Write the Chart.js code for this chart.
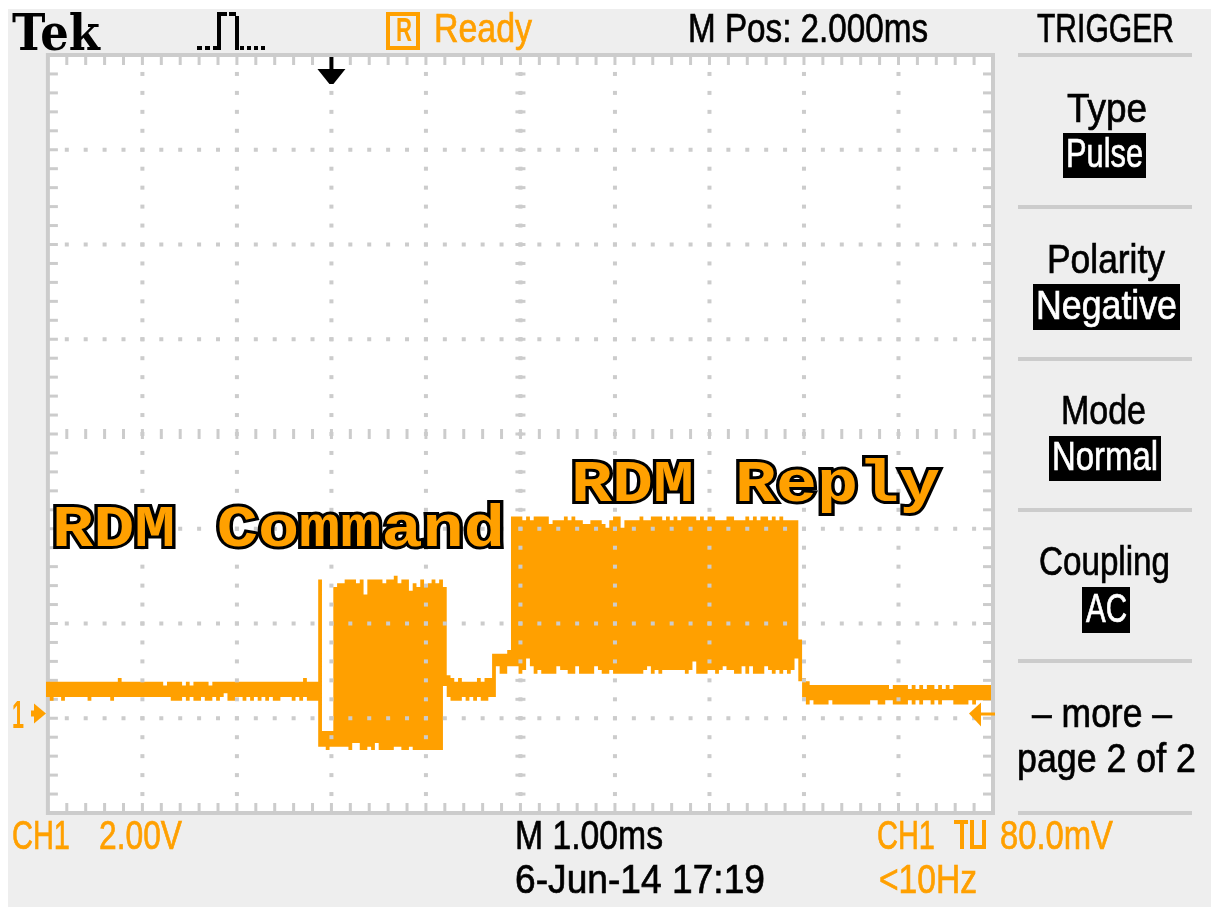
<!DOCTYPE html>
<html>
<head>
<meta charset="utf-8">
<title>RDM Command / Reply</title>
<script src="https://cdn.jsdelivr.net/npm/chart.js@4/dist/chart.umd.min.js"></script>
<style>
  html, body { margin: 0; background: #fff; overflow: hidden; }
  #wrap { position: relative; width: 1211px; height: 908px; overflow: hidden; }
  #panel { position: absolute; left: 8px; top: 9px; width: 1203px; height: 898px; background: #eee; }
  #scope { position: absolute; left: 0; top: 0; }
  .txt { position: absolute; line-height: 0; white-space: pre; transform-origin: 0 0; font-family: "Liberation Sans", sans-serif; }
  .box { position: absolute; background: #000; }
  .sep { position: absolute; background: #ccc; left: 1018px; width: 174px; height: 4px; }
</style>
</head>
<body>
<div id="wrap">
  <div id="panel"></div>
  <canvas id="scope" width="1211" height="908"></canvas>
</div>
<script>
const ORANGE = '#ffa000';
const GRID = '#cccccc';

// one column of the display = 0.04 ms, trace values in volts (2 V/div, 1 ms/div)
const firstSample = -3.02;
const sampleStep = 0.04;

const traceHigh = [
  .67,.67,.67,.67,.67,.67,.67,.67,.67,.67,
  .67,.67,.67,.67,.67,.67,.67,.67,.67,.75,
  .67,.67,.67,.67,.67,.67,.67,.67,.67,.67,
  .67,.59,.67,.67,.67,.67,.59,.67,.59,.67,
  .67,.67,.67,.59,.67,.67,.67,.67,.67,.67,
  .67,.67,.67,.67,.67,.67,.67,.67,.67,.67,
  .67,.67,.67,.67,.67,.67,.67,.67,.75,.67,
  .67,.67,2.83,-.37,-.37,-.37,2.67,2.75,2.75,2.83,
  2.83,2.83,2.75,2.83,2.51,2.83,2.83,2.83,2.83,2.75,
  2.83,2.83,2.91,2.75,2.83,2.83,2.59,2.75,2.67,2.83,
  2.67,2.75,2.83,2.75,2.83,2.67,.81,.75,.67,.75,
  .67,.67,.67,.67,.75,.67,.75,.75,1.26,1.26,
  1.26,1.26,1.34,4.16,4.16,4.16,4.08,4.16,4.08,4.16,
  4.16,4.16,4.16,4.00,4.08,4.08,4.08,4.16,4.08,4.16,
  4.08,4.08,4.00,4.00,4.08,4.08,4.08,4.00,3.92,4.08,
  4.16,4.16,3.92,4.08,4.08,4.08,4.08,4.16,4.08,4.08,
  4.16,4.16,4.16,4.08,4.16,4.08,4.16,4.08,4.16,4.16,
  4.16,4.16,4.08,4.16,4.08,4.16,4.16,4.08,4.08,4.08,
  4.16,4.16,4.08,4.08,4.08,4.16,4.08,4.16,4.08,4.16,
  4.16,4.08,4.16,4.08,4.16,4.08,4.08,4.08,4.08,1.56,
  .75,.68,.60,.60,.60,.60,.60,.60,.60,.60,
  .60,.60,.60,.60,.60,.60,.60,.60,.60,.60,
  .60,.60,.60,.52,.60,.60,.60,.60,.52,.60,
  .52,.60,.52,.60,.60,.52,.60,.52,.60,.52,
  .60,.60,.60,.60,.60,.60,.60,.60,.60,.60
];

const traceLow = [
  .35,.27,.35,.35,.27,.35,.35,.35,.35,.35,
  .35,.27,.35,.35,.35,.35,.35,.27,.35,.35,
  .35,.35,.35,.35,.35,.35,.35,.35,.35,.35,
  .35,.35,.35,.27,.27,.27,.35,.27,.35,.27,
  .27,.35,.27,.27,.35,.27,.35,.43,.27,.27,
  .35,.35,.27,.35,.27,.35,.27,.35,.27,.35,
  .27,.27,.35,.35,.35,.27,.35,.27,.35,.27,
  .27,.27,-.70,-.70,-.77,-.70,-.70,-.70,-.70,-.70,
  -.77,-.62,-.62,-.77,-.77,-.70,-.77,-.62,-.77,-.77,
  -.77,-.77,-.70,-.70,-.77,-.77,-.70,-.77,-.77,-.77,
  -.77,-.77,-.77,-.77,-.77,.58,.35,.27,.27,.27,
  .35,.27,.35,.27,.35,.27,.27,.35,.35,1.00,
  .84,.84,1.00,1.00,1.00,.84,.92,1.16,1.00,.84,
  .92,.84,.84,.84,.84,1.00,.92,.92,.84,.84,
  1.00,.84,.84,.84,.84,1.00,.92,.84,.84,.92,
  .84,.84,.84,.84,.84,.84,.84,.84,.92,1.00,
  .84,.92,.84,.92,.92,.92,.92,.92,.92,.84,
  .92,1.10,.84,.84,.84,.92,.92,.84,.92,1.00,
  .92,.92,.84,.84,1.00,.84,1.00,.84,.84,.84,
  1.00,.92,.84,.92,.84,.92,.84,.92,1.16,.68,
  .34,.19,.28,.19,.19,.19,.19,.28,.19,.19,
  .19,.19,.19,.19,.19,.19,.19,.19,.28,.28,
  .19,.19,.28,.28,.19,.19,.19,.19,.28,.19,
  .28,.19,.28,.28,.19,.28,.19,.28,.28,.28,
  .19,.19,.19,.19,.28,.19,.28,.28,.28,.28
];

const timeMin = -3;
const timeMax = 7;
const voltMin = -2.1;
const voltMax = 13.9;
const triggerTime = 0;
const groundVolts = 0;

const sampleTimes = traceHigh.map((_, i) => firstSample + i * sampleStep);
sampleTimes.push(firstSample + traceHigh.length * sampleStep);
const highPoints = sampleTimes.map((t, i) => ({ x: t, y: traceHigh[Math.min(i, traceHigh.length - 1)] }));
const lowPoints = sampleTimes.map((t, i) => ({ x: t, y: traceLow[Math.min(i, traceLow.length - 1)] }));

const scopePlugin = {
  id: 'scopeGraticule',
  beforeDraw(chart) {
    const { ctx, chartArea: a } = chart;
    ctx.fillStyle = '#fff';
    ctx.fillRect(a.left, a.top, a.width, a.height);
  },
  beforeDatasetsDraw(chart) {
    const { ctx, chartArea: a, scales: { x, y } } = chart;
    const left = x.getPixelForValue(timeMin);
    const right = x.getPixelForValue(timeMax);
    ctx.save();
    ctx.fillStyle = GRID;
    // frame
    ctx.strokeStyle = GRID;
    ctx.lineWidth = 4;
    ctx.strokeRect(left, a.top, right - left, a.height);
    // ticks on the frame and on the centre cross
    const cy = y.getPixelForValue((voltMin + voltMax) / 2);
    const cx = x.getPixelForValue((timeMin + timeMax) / 2);
    for (let k = 1; k < 50; k++) {
      const px = x.getPixelForValue(timeMin + k * 0.2);
      ctx.fillRect(px - 1.5, a.top, 3, 10);
      ctx.fillRect(px - 1.5, a.bottom - 10, 3, 10);
      ctx.fillRect(px - 1.5, cy - 5, 3, 10);
    }
    for (let k = 1; k < 40; k++) {
      const py = y.getPixelForValue(voltMin + k * 0.4);
      ctx.fillRect(left, py - 1.5, 10, 3);
      ctx.fillRect(right - 10, py - 1.5, 10, 3);
      ctx.fillRect(cx - 5, py - 1.5, 10, 3);
    }
    ctx.restore();
  },
  afterDatasetsDraw(chart) {
    const { ctx, chartArea: a, scales: { x, y } } = chart;
    const right = x.getPixelForValue(timeMax);
    ctx.save();
    // dotted graticule sits on top of the trace
    ctx.fillStyle = GRID;
    for (let d = 1; d < 10; d++) {
      const px = x.getPixelForValue(timeMin + d);
      for (let k = 1; k < 40; k++) {
        ctx.fillRect(px - 2, y.getPixelForValue(voltMin + k * 0.4) - 2, 4, 4);
      }
    }
    for (let d = 1; d < 8; d++) {
      if (d === 4) continue;
      const py = y.getPixelForValue(voltMin + d * 2);
      for (let k = 1; k < 50; k++) {
        ctx.fillRect(x.getPixelForValue(timeMin + k * 0.2) - 2, py - 2, 4, 4);
      }
    }

    // trigger position marker
    const tx = x.getPixelForValue(triggerTime);
    ctx.fillStyle = '#000';
    ctx.fillRect(tx - 2, a.top + 2, 4, 14);
    ctx.beginPath();
    ctx.moveTo(tx - 14, a.top + 14);
    ctx.lineTo(tx + 14, a.top + 14);
    ctx.lineTo(tx + 2, a.top + 29);
    ctx.lineTo(tx - 2, a.top + 29);
    ctx.closePath();
    ctx.fill();

    // channel 1 ground marker
    const gy = y.getPixelForValue(groundVolts);
    ctx.fillStyle = ORANGE;
    ctx.fillRect(31, gy - 3, 8, 6);
    ctx.beginPath();
    ctx.moveTo(34, gy - 10);
    ctx.lineTo(46, gy);
    ctx.lineTo(34, gy + 10);
    ctx.closePath();
    ctx.fill();

    // trigger level marker
    ctx.fillRect(right - 14, gy - 1, 16, 3);
    ctx.beginPath();
    ctx.moveTo(right - 24, gy);
    ctx.lineTo(right - 12, gy - 11);
    ctx.lineTo(right - 12, gy + 13);
    ctx.closePath();
    ctx.fill();

    // acquisition icon
    ctx.fillStyle = '#000';
    [197, 205, 213].forEach(v => ctx.fillRect(v, 46, 5, 4));
    ctx.fillRect(217, 12, 4, 38);
    ctx.fillRect(217, 12, 10, 4);
    ctx.fillRect(229, 12, 7, 4);
    ctx.fillRect(235, 16, 4, 34);
    [240, 247, 254, 261].forEach(v => ctx.fillRect(v, 46, 4, 4));

    // ready box
    ctx.strokeStyle = ORANGE;
    ctx.lineWidth = 4;
    ctx.strokeRect(388, 14, 30, 34);

    // trigger slope symbol
    ctx.fillStyle = ORANGE;
    ctx.fillRect(954, 820, 14, 4);
    ctx.fillRect(960, 820, 4, 29);
    ctx.fillRect(970, 820, 4, 26);
    ctx.fillRect(982, 820, 4, 26);
    ctx.fillRect(970, 845, 16, 4);
    ctx.restore();
  }
};

new Chart(document.getElementById('scope'), {
  type: 'line',
  data: {
    datasets: [
      { label: 'CH1 max', data: highPoints, stepped: true, borderWidth: 0, pointRadius: 0, fill: false },
      { label: 'CH1 min', data: lowPoints, stepped: true, borderWidth: 0, pointRadius: 0, fill: '-1',
        backgroundColor: ORANGE }
    ]
  },
  options: {
    responsive: false,
    animation: false,
    layout: { padding: { left: 46, right: 218, top: 55, bottom: 95 } },
    plugins: { legend: { display: false }, title: { display: false }, tooltip: { enabled: false } },
    scales: {
      x: { type: 'linear', min: firstSample, max: timeMax, display: false },
      y: { type: 'linear', min: voltMin, max: voltMax, display: false }
    }
  },
  plugins: [scopePlugin]
});

// menu boxes and separators
const wrap = document.getElementById('wrap');
[[1063, 133, 83, 45], [1033, 284, 147, 46], [1049, 436, 112, 45], [1082, 587, 48, 46]].forEach(b => {
  const el = document.createElement('div');
  el.className = 'box';
  el.style.cssText = `left:${b[0]}px;top:${b[1]}px;width:${b[2]}px;height:${b[3]}px`;
  wrap.appendChild(el);
});
[53, 205, 357, 508, 659, 811].forEach(t => {
  const el = document.createElement('div');
  el.className = 'sep';
  el.style.top = t + 'px';
  wrap.appendChild(el);
});

// text, left, right, baseline, font size, colour
const BODY = 41;
const screenText = [
  ['Ready', 434, 532, 42, BODY, ORANGE],
  ['M Pos: 2.000ms', 688, 928, 42, BODY, '#000'],
  ['TRIGGER', 1037, 1174, 42, BODY, '#000'],
  ['Type', 1067, 1147, 122, BODY, '#000'],
  ['Pulse', 1066, 1143, 167, BODY, '#fff'],
  ['Polarity', 1047, 1165, 273, BODY, '#000'],
  ['Negative', 1036, 1177, 319, BODY, '#fff'],
  ['Mode', 1061, 1146, 424, BODY, '#000'],
  ['Normal', 1052, 1158, 470, BODY, '#fff'],
  ['Coupling', 1039, 1170, 575, BODY, '#000'],
  ['AC', 1086, 1127, 622, BODY, '#fff'],
  ['\u2013 more \u2013', 1032, 1172, 727, BODY, '#000'],
  ['page 2 of 2', 1017, 1196, 772, BODY, '#000'],
  ['CH1', 12, 70, 849, BODY, ORANGE],
  ['2.00V', 99, 182, 849, BODY, ORANGE],
  ['M 1.00ms', 515, 663, 849, BODY, '#000'],
  ['6-Jun-14 17:19', 515, 765, 893, BODY, '#000'],
  ['CH1', 877, 935, 849, BODY, ORANGE],
  ['80.0mV', 1000, 1113, 849, BODY, ORANGE],
  ['<10Hz', 879, 977, 893, BODY, ORANGE],
];

const measure = document.createElement('canvas').getContext('2d');

function placeText(text, left, right, baseline, size, color, family, weight, extra) {
  const el = document.createElement('div');
  el.className = 'txt';
  el.textContent = text;
  el.style.fontFamily = family;
  el.style.fontWeight = weight;
  el.style.fontSize = size + 'px';
  el.style.color = color;
  if (extra) el.style.cssText += extra;
  measure.font = `${weight} ${size}px ${family}`;
  const m = measure.measureText(text);
  const top = baseline - (m.fontBoundingBoxAscent - m.fontBoundingBoxDescent) / 2;
  el.style.left = left + 'px';
  el.style.top = top + 'px';
  wrap.appendChild(el);
  el.style.transform = `scaleX(${(right - left) / el.getBoundingClientRect().width})`;
}

const thicken = '-webkit-text-stroke:0.7px currentColor;';
screenText.forEach(t => placeText(t[0], t[1], t[2], t[3], t[4], t[5], '"Liberation Sans"', 'normal', thicken));
placeText('R', 396, 412, 41, 34, ORANGE, '"Liberation Sans"', 'bold');
placeText('1', 12, 24, 728, 38, ORANGE, '"Liberation Sans"', 'bold');
placeText('Tek', 12, 100, 50, 51, '#000', '"DejaVu Serif"', 'bold');

const stroke = '-webkit-text-stroke:6px #000;paint-order:stroke fill;';
placeText('RDM Command', 52, 505, 546, 60, ORANGE, '"Liberation Mono"', 'bold', stroke);
placeText('RDM Reply', 571, 940, 501, 60, ORANGE, '"Liberation Mono"', 'bold', stroke);
</script>
</body>
</html>
